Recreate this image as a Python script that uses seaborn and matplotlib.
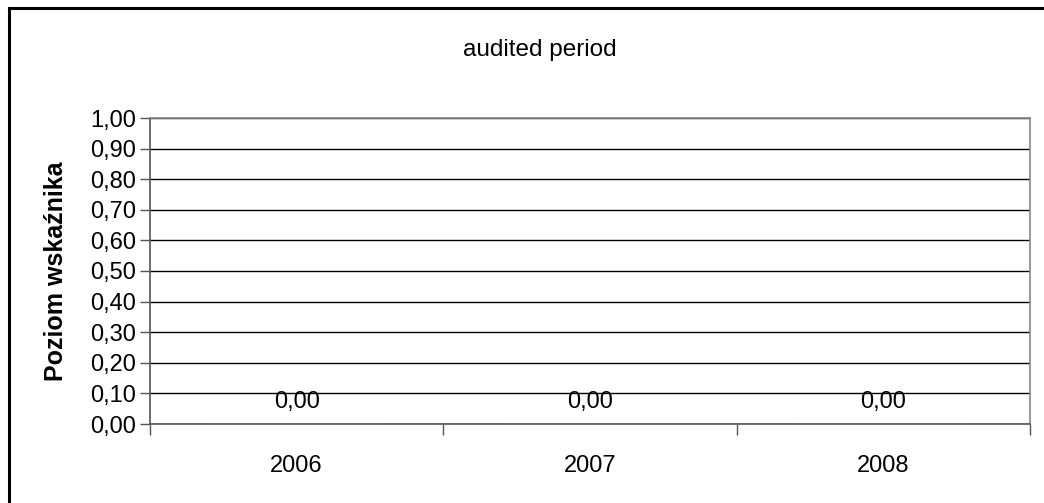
import numpy as np
import pandas as pd
import seaborn as sns
import matplotlib.pyplot as plt
from matplotlib.patches import Rectangle

# data
years = ['2006', '2007', '2008']
values = [0.0, 0.0, 0.0]
y_ticks = [0.0, 0.1, 0.2, 0.3, 0.4, 0.5, 0.6, 0.7, 0.8, 0.9, 1.0]

df = pd.DataFrame({'year': years, 'value': values})

sns.set_style('white')
plt.rcParams['font.family'] = ['Liberation Sans', 'DejaVu Sans']
plt.rcParams['text.color'] = 'black'
plt.rcParams['axes.labelcolor'] = 'black'
plt.rcParams['xtick.color'] = 'black'
plt.rcParams['ytick.color'] = 'black'

W, H = 1044, 503
fig = plt.figure(figsize=(W / 100, H / 100), dpi=100)
ax = fig.add_axes([150 / W, 1 - 424 / H, (1030 - 150) / W, (424 - 118) / H])

sns.barplot(data=df, x='year', y='value', color='#9999ff', ax=ax, width=0.6)

ax.set_xlim(-0.5, 2.5)
ax.set_ylim(0, 1.0)
ax.set_yticks(y_ticks)
ax.set_yticklabels([f'{t:.2f}'.replace('.', ',') for t in y_ticks], fontsize=17)
ax.yaxis.grid(True, color='black', linewidth=1)
ax.set_axisbelow(True)

# category boundaries as tick marks
ax.set_xticks([0, 1, 2])
ax.set_xticklabels(years, fontsize=17)
ax.set_xticks([-0.5, 0.5, 1.5, 2.5], minor=True)
ax.tick_params(axis='x', which='major', length=0, pad=22)
ax.tick_params(axis='x', which='minor', length=8, width=1, color='#555555', bottom=True)
ax.tick_params(axis='y', length=7, width=1, color='#555555', left=True, pad=3)

for side in ['top', 'right', 'left', 'bottom']:
    ax.spines[side].set_visible(True)
    ax.spines[side].set_color('#888888')
    ax.spines[side].set_linewidth(1.2)
ax.spines['left'].set_color('#555555')
ax.spines['bottom'].set_color('#555555')

ax.set_xlabel('')
ax.set_ylabel('Poziom wskaźnika', fontsize=18, fontweight='bold', labelpad=16)

# value labels
for i, v in enumerate(values):
    ax.annotate(f'{v:.2f}'.replace('.', ','), xy=(i, v), xytext=(0, 16),
                textcoords='offset points', ha='center', va='center', fontsize=17)

fig.text(540 / W, 1 - 50 / H, 'audited period', ha='center', va='center', fontsize=17.5)

# outer chart border (cut at right and bottom)
fig.patches.append(Rectangle((9 / W, -0.1), 1.2, 1.1 - 8 / H, transform=fig.transFigure,
                             fill=False, edgecolor='black', linewidth=2.2))

fig.savefig('out.png', dpi=100)
